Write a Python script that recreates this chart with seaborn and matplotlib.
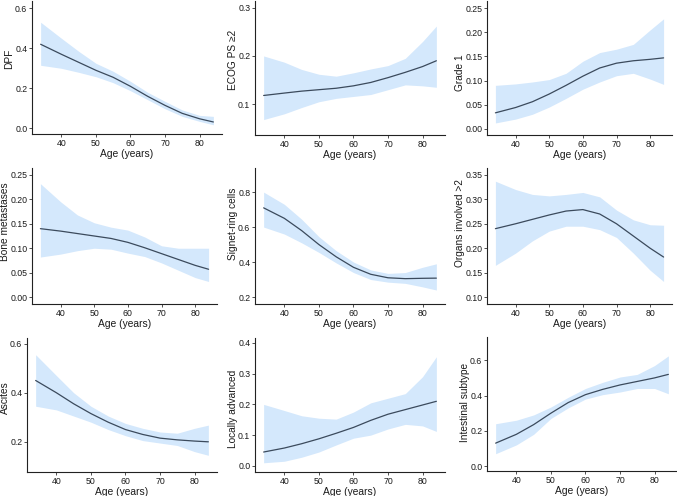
import numpy as np
import pandas as pd
import seaborn as sns
import matplotlib
matplotlib.use('Agg')
import matplotlib.pyplot as plt

ages = [34, 40, 45, 50, 55, 60, 65, 70, 75, 80, 84]

dpf_fit = [0.42, 0.37, 0.33, 0.29, 0.255, 0.21, 0.16, 0.115, 0.075, 0.048, 0.032]
dpf_lo = [0.315, 0.30, 0.28, 0.258, 0.228, 0.188, 0.143, 0.098, 0.06, 0.035, 0.018]
dpf_hi = [0.53, 0.45, 0.385, 0.325, 0.285, 0.235, 0.18, 0.135, 0.092, 0.065, 0.06]

ecog_fit = [0.118, 0.123, 0.127, 0.13, 0.133, 0.138, 0.145, 0.155, 0.166, 0.178, 0.19]
ecog_lo = [0.068, 0.08, 0.093, 0.105, 0.112, 0.116, 0.12, 0.13, 0.14, 0.138, 0.135]
ecog_hi = [0.2, 0.187, 0.172, 0.162, 0.158, 0.165, 0.173, 0.18, 0.195, 0.23, 0.262]

grade_fit = [0.033, 0.044, 0.056, 0.072, 0.09, 0.109, 0.126, 0.136, 0.141, 0.144, 0.147]
grade_lo = [0.012, 0.02, 0.03, 0.045, 0.063, 0.082, 0.097, 0.11, 0.115, 0.103, 0.092]
grade_hi = [0.09, 0.093, 0.097, 0.102, 0.115, 0.14, 0.158, 0.165, 0.175, 0.205, 0.228]

bone_fit = [0.14, 0.135, 0.13, 0.125, 0.12, 0.112, 0.101, 0.089, 0.077, 0.065, 0.057]
bone_lo = [0.082, 0.088, 0.095, 0.1, 0.098, 0.09, 0.083, 0.07, 0.055, 0.04, 0.032]
bone_hi = [0.232, 0.195, 0.168, 0.152, 0.143, 0.137, 0.123, 0.105, 0.1, 0.1, 0.1]

signet_fit = [0.71, 0.65, 0.58, 0.5, 0.43, 0.37, 0.33, 0.31, 0.305, 0.307, 0.308]
signet_lo = [0.6, 0.56, 0.51, 0.455, 0.395, 0.34, 0.3, 0.285, 0.278, 0.258, 0.24]
signet_hi = [0.8, 0.73, 0.645, 0.545, 0.465, 0.4, 0.355, 0.335, 0.34, 0.37, 0.39]

organs_fit = [0.24, 0.25, 0.259, 0.268, 0.276, 0.279, 0.27, 0.25, 0.225, 0.2, 0.182]
organs_lo = [0.165, 0.19, 0.215, 0.235, 0.245, 0.245, 0.238, 0.222, 0.19, 0.155, 0.132]
organs_hi = [0.337, 0.32, 0.31, 0.307, 0.31, 0.314, 0.305, 0.278, 0.258, 0.248, 0.247]

ascites_fit = [0.45, 0.4, 0.355, 0.315, 0.28, 0.25, 0.23, 0.215, 0.208, 0.203, 0.2]
ascites_lo = [0.345, 0.33, 0.305, 0.28, 0.25, 0.225, 0.205, 0.195, 0.185, 0.16, 0.145]
ascites_hi = [0.555, 0.47, 0.4, 0.345, 0.305, 0.275, 0.255, 0.24, 0.235, 0.255, 0.268]

local_fit = [0.045, 0.058, 0.072, 0.088, 0.106, 0.125, 0.148, 0.168, 0.183, 0.198, 0.21]
local_lo = [0.01, 0.015, 0.028, 0.045, 0.068, 0.09, 0.1, 0.12, 0.135, 0.13, 0.112]
local_hi = [0.2, 0.18, 0.163, 0.155, 0.152, 0.175, 0.205, 0.22, 0.235, 0.29, 0.355]

intest_fit = [0.13, 0.18, 0.235, 0.3, 0.36, 0.405, 0.435, 0.46, 0.48, 0.5, 0.52]
intest_lo = [0.07, 0.12, 0.18, 0.27, 0.33, 0.38, 0.405, 0.42, 0.44, 0.44, 0.41]
intest_hi = [0.24, 0.26, 0.29, 0.335, 0.39, 0.44, 0.475, 0.505, 0.52, 0.57, 0.625]

labels = ['DPF', 'ECOG PS \u22652', 'Grade 1',
          'Bone metastases', 'Signet-ring cells', 'Organs involved >2',
          'Ascites', 'Locally advanced', 'Intestinal subtype']
fits = [dpf_fit, ecog_fit, grade_fit, bone_fit, signet_fit, organs_fit,
        ascites_fit, local_fit, intest_fit]
los = [dpf_lo, ecog_lo, grade_lo, bone_lo, signet_lo, organs_lo,
       ascites_lo, local_lo, intest_lo]
his = [dpf_hi, ecog_hi, grade_hi, bone_hi, signet_hi, organs_hi,
       ascites_hi, local_hi, intest_hi]

# axes boxes in pixels (left, top, right, bottom), y limits and ticks per panel
boxes = [(32, 1, 222, 134), (255, 1, 445, 135), (487, 1, 672, 135),
         (32, 168, 217, 304), (255, 168, 445, 304), (487, 168, 672, 304),
         (27, 338, 217, 472), (255, 338, 445, 472), (487, 337, 677, 471)]
# how far (px) each y title sits above the panel centre
label_shift = [9, 8, -4.5, 14, 12, 12.5, 7.5, -3.5, 2]
ylims = [(-0.028, 0.636), (0.036, 0.314), (-0.013, 0.265),
         (-0.014, 0.264), (0.16, 0.938), (0.086, 0.364),
         (0.077, 0.623), (-0.02, 0.416), (-0.028, 0.732)]
yticks = [[0, 0.2, 0.4, 0.6], [0.1, 0.2, 0.3], [0, 0.05, 0.1, 0.15, 0.2, 0.25],
          [0, 0.05, 0.1, 0.15, 0.2, 0.25], [0.2, 0.4, 0.6, 0.8],
          [0.1, 0.15, 0.2, 0.25, 0.3, 0.35],
          [0.2, 0.4, 0.6], [0, 0.1, 0.2, 0.3, 0.4], [0, 0.2, 0.4, 0.6]]
yfmt = ['%.1f', '%.1f', '%.2f', '%.2f', '%.1f', '%.2f', '%.1f', '%.1f', '%.1f']

sns.set_theme(style='ticks')
plt.rcParams['font.family'] = ['Liberation Sans', 'DejaVu Sans']

W, H = 677, 496
fig = plt.figure(figsize=(W / 100, H / 100), dpi=100)

for i in range(9):
    l, t, r, b = boxes[i]
    ax = fig.add_axes([l / W, 1 - b / H, (r - l) / W, (b - t) / H])
    df = pd.DataFrame({'age': ages, 'fit': fits[i], 'lo': los[i], 'hi': his[i]})
    ax.fill_between(df.age, df.lo, df.hi, color='#d4e8fc', lw=0)
    sns.lineplot(data=df, x='age', y='fit', ax=ax, color='#3b4a5c', lw=0.9)
    ax.set_xlim(31.5, 86.5)
    ax.set_ylim(*ylims[i])
    ax.set_xticks([40, 50, 60, 70, 80])
    ax.set_yticks(yticks[i])
    ax.set_yticklabels([yfmt[i] % v for v in yticks[i]])
    ax.set_xlabel('Age (years)', fontsize=7.4, labelpad=0.6, color='#1a1a1a')
    ax.set_ylabel(labels[i], fontsize=7.3, labelpad=0.3, color='#1a1a1a')
    ax.yaxis.label.set_y(0.5 + label_shift[i] / (b - t))
    ax.tick_params(labelsize=6.3, length=2.2, width=0.6, pad=1.2,
                   colors='#333333', labelcolor='#1a1a1a')
    sns.despine(ax=ax)
    for s in ['left', 'bottom']:
        ax.spines[s].set_linewidth(0.8)
        ax.spines[s].set_color('#222222')

fig.savefig('out.png', dpi=100)
